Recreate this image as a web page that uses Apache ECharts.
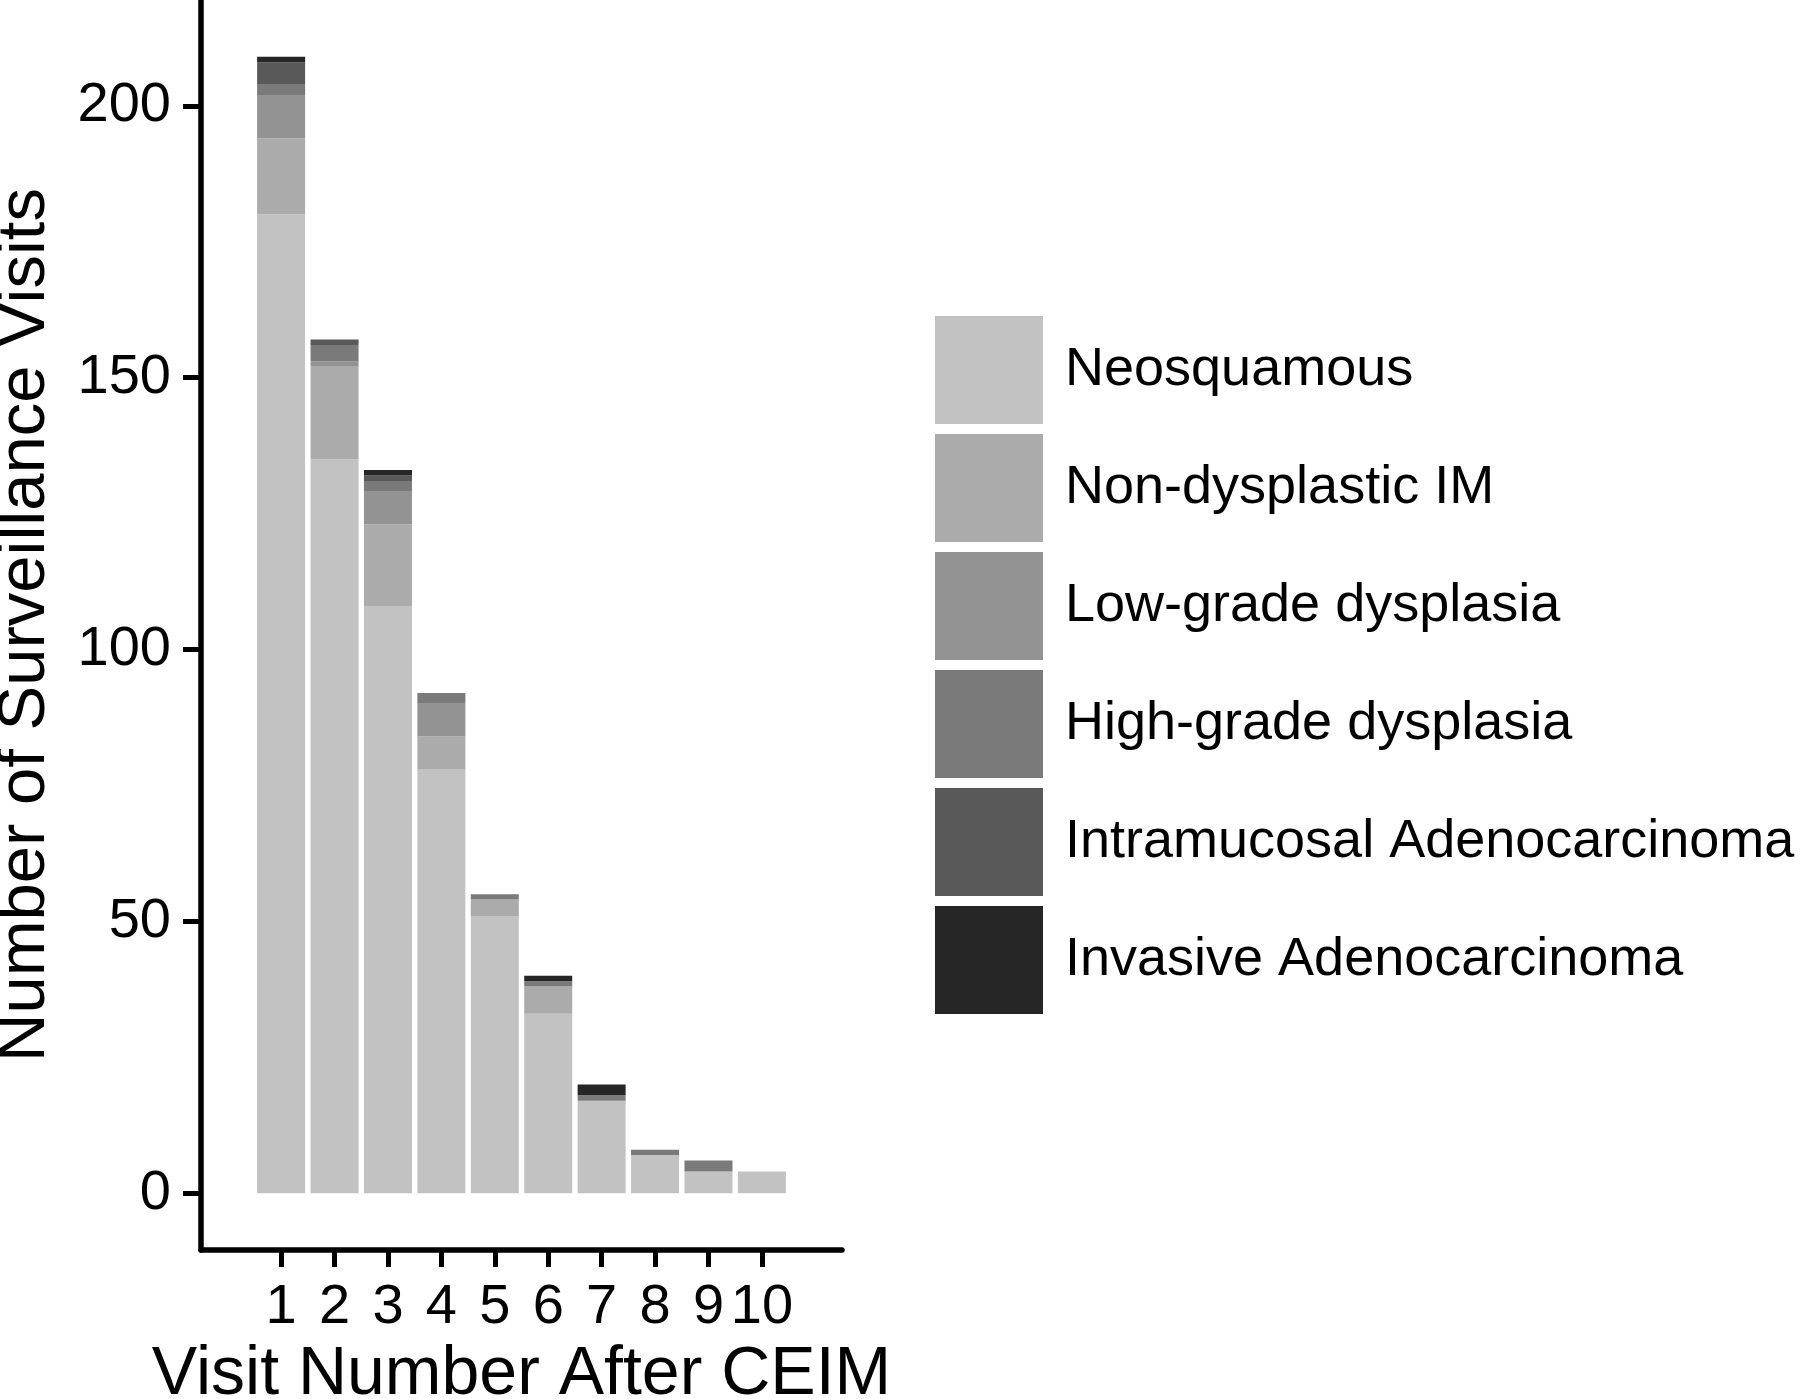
<!DOCTYPE html>
<html>
<head>
<meta charset="utf-8">
<script src="https://cdn.jsdelivr.net/npm/echarts@6/dist/echarts.min.js"></script>
<style>
html,body{margin:0;padding:0;background:#fff;overflow:hidden;}
#chart{width:1800px;height:1399px;}
</style>
</head>
<body>
<div id="chart"></div>
<script>
const visits = ["1","2","3","4","5","6","7","8","9","10"];
const neosquamous   = [180,135,108,78,51,33,17,7,4,4];
const nonDysplastic = [14,17,15,6,3,5,0,0,0,0];
const lowGrade      = [8,1,6,6,0,0,0,0,0,0];
const highGrade     = [2,3,2,2,1,1,1,1,2,0];
const intramucosal  = [4,1,1,0,0,0,0,0,0,0];
const invasive      = [1,0,1,0,0,1,2,0,0,0];
const yTicks = [0,50,100,150,200];
const seriesNames = ["Neosquamous","Non-dysplastic IM","Low-grade dysplasia","High-grade dysplasia","Intramucosal Adenocarcinoma","Invasive Adenocarcinoma"];
const seriesValues = [neosquamous,nonDysplastic,lowGrade,highGrade,intramucosal,invasive];
const colors = ["#c2c2c2","#ababab","#939393","#7a7a7a","#595959","#262626"];

// padded category list: one empty slot on each side (axis expansion)
const categories = [""].concat(visits, [""]);
const isReal = (idx) => idx > 0 && idx < categories.length - 1;

const FONT = "Liberation Sans, Arial, sans-serif";
const chart = echarts.init(document.getElementById('chart'));
chart.setOption({
  animation:false,
  backgroundColor:'#fff',
  color: colors,
  grid:{left:201, top:0, width:641, bottom:149, containLabel:false, outerBoundsMode:'none'},
  legend:{
    orient:'vertical', left:935, top:316, padding:0,
    icon:'rect', itemWidth:108, itemHeight:108, itemGap:10,
    textStyle:{fontFamily:FONT, fontSize:54, color:'#000', padding:[0,0,0,17]},
    data: seriesNames
  },
  xAxis:{
    type:'category', data:categories, boundaryGap:true,
    name:'Visit Number After CEIM', nameLocation:'middle', nameGap:88,
    nameTextStyle:{fontFamily:FONT, fontSize:68, color:'#000'},
    axisLine:{show:true, onZero:false, lineStyle:{color:'#000', width:5.5}},
    axisTick:{show:true, alignWithLabel:true, length:17, interval:(i)=>isReal(i), lineStyle:{color:'#000', width:5}},
    axisLabel:{show:true, interval:0, margin:30, fontFamily:FONT, fontSize:56, color:'#000'},
    splitLine:{show:false}
  },
  yAxis:{
    type:'value', min:-10.45, max:219.45,
    name:'Number of Surveillance Visits', nameLocation:'middle', nameGap:142,
    nameTextStyle:{fontFamily:FONT, fontSize:67, color:'#000'},
    axisLine:{show:true, onZero:false, lineStyle:{color:'#000', width:5.5}},
    axisTick:{show:true, length:18, customValues:yTicks, lineStyle:{color:'#000', width:5}},
    axisLabel:{show:true, customValues:yTicks, margin:30, fontFamily:FONT, fontSize:56, color:'#000'},
    splitLine:{show:false}
  },
  series: seriesNames.map((n,i)=>({
    name:n, type:'bar', stack:'total', barWidth:48,
    itemStyle:{color:colors[i]},
    data: ['-'].concat(seriesValues[i], ['-'])
  }))
});
</script>
</body>
</html>
